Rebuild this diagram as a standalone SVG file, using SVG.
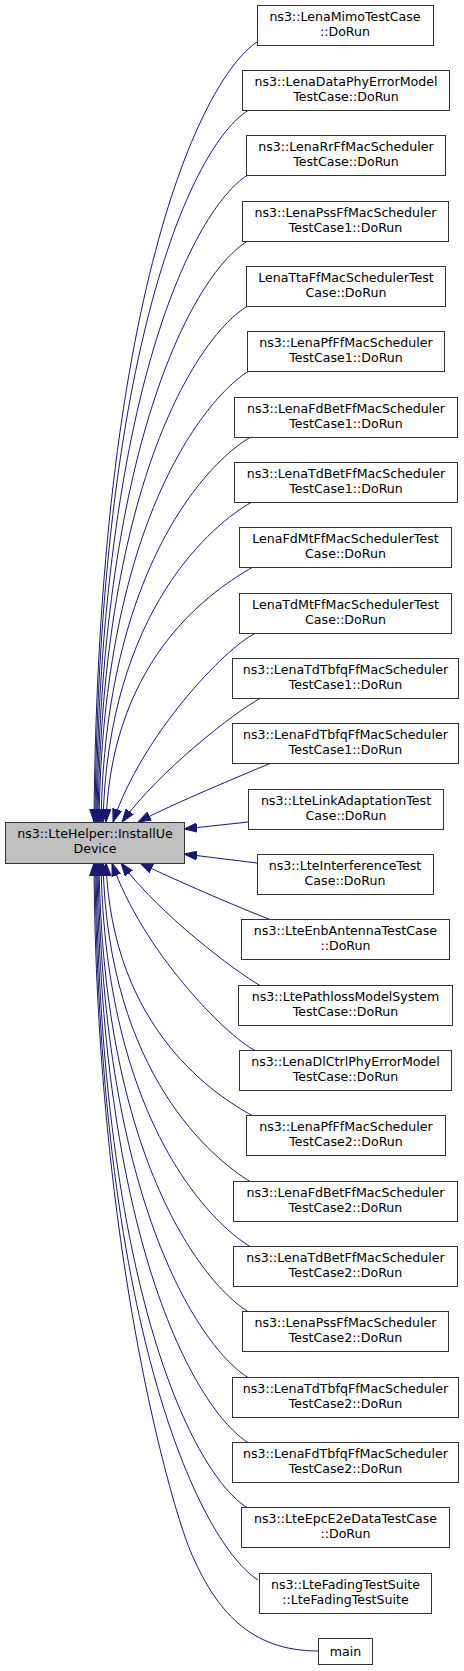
<svg xmlns="http://www.w3.org/2000/svg" width="464" height="1671" viewBox="0 0 464 1671">
<style>
.n rect{fill:#ffffff;stroke:#333333;stroke-width:1}
.c rect{fill:#bfbfbf;stroke:#333333;stroke-width:1}
text{font-family:'DejaVu Sans','Liberation Sans',sans-serif;font-size:12.6px;text-anchor:middle;fill:#000000}
.e path{fill:none;stroke:#191970;stroke-width:1;marker-end:url(#ah)}
</style>
<defs>
<marker id="ah" markerUnits="userSpaceOnUse" markerWidth="13" markerHeight="10" viewBox="0 0 13 10" refX="13" refY="5" orient="auto">
<path d="M0,0.5 L13,5 L0,9.5 z" fill="#191970" stroke="#191970" stroke-width="1"/>
</marker>
</defs>
<rect x="0" y="0" width="464" height="1671" fill="#ffffff"/>
<g id="edges" class="e">
<path d="M257,42 C200,80 98,300 94,822"/>
<path d="M248,110.5 C193,145 99,345 95,822"/>
<path d="M247,175.5 C195,209 100,389 96,822"/>
<path d="M247,241.5 C198,271 101,433 97,822"/>
<path d="M247,306.5 C201,334 102,476 98,822"/>
<path d="M248,371.5 C206,398 103,521 99,822"/>
<path d="M250,437.5 C211,460 105,564 101,822"/>
<path d="M251,502.5 C215,523 108,608 103,822"/>
<path d="M252,567.5 C219,587 112,652 106,822"/>
<path d="M255,633.5 C225,648 142,735 113,822"/>
<path d="M260,698.5 C235,712 160,770 122,822"/>
<path d="M270,763.5 C240,776 175,803 138,822"/>
<path d="M248,822 L184,829"/>
<path d="M257,863 L184,854"/>
<path d="M270,919.5 C240,908 175,880 140,863"/>
<path d="M260,985.5 C235,971 160,915 121,863"/>
<path d="M255,1050.5 C225,1035 142,950 112,863"/>
<path d="M252,1115.5 C219,1097 112,1032 106,863"/>
<path d="M250,1181.5 C215,1160 108,1076 103,863"/>
<path d="M250,1246.5 C211,1223 105,1120 101,863"/>
<path d="M248,1311.5 C206,1286 103,1163 99,863"/>
<path d="M248,1377.5 C202,1349 102,1207 98,863"/>
<path d="M248,1442.5 C199,1412 101,1251 97,863"/>
<path d="M247,1507.5 C195,1475 100,1295 96,863"/>
<path d="M258,1580 C203,1545 99,1340 95,863"/>
<path d="M318,1651 C250,1651 215,1610 190,1550 C172,1507 96,1250 94,863"/>
</g>
<g id="center" class="c"><rect x="5.5" y="822.5" width="179" height="41"/><text x="95" y="838">ns3::LteHelper::InstallUe</text><text x="95" y="853">Device</text></g>
<g id="n1" class="n"><rect x="257.5" y="5.5" width="176" height="40"/><text x="345" y="21">ns3::LenaMimoTestCase</text><text x="345" y="36">::DoRun</text></g>
<g id="n2" class="n"><rect x="242.5" y="70.5" width="207" height="40"/><text x="346" y="86">ns3::LenaDataPhyErrorModel</text><text x="346" y="101">TestCase::DoRun</text></g>
<g id="n3" class="n"><rect x="246.5" y="135.5" width="199" height="40"/><text x="346" y="151">ns3::LenaRrFfMacScheduler</text><text x="346" y="166">TestCase::DoRun</text></g>
<g id="n4" class="n"><rect x="242.5" y="201.5" width="206" height="40"/><text x="345.5" y="217">ns3::LenaPssFfMacScheduler</text><text x="345.5" y="232">TestCase1::DoRun</text></g>
<g id="n5" class="n"><rect x="246.5" y="266.5" width="199" height="40"/><text x="346" y="282">LenaTtaFfMacSchedulerTest</text><text x="346" y="297">Case::DoRun</text></g>
<g id="n6" class="n"><rect x="247.5" y="331.5" width="197" height="40"/><text x="346" y="347">ns3::LenaPfFfMacScheduler</text><text x="346" y="362">TestCase1::DoRun</text></g>
<g id="n7" class="n"><rect x="234.5" y="397.5" width="223" height="40"/><text x="346" y="413">ns3::LenaFdBetFfMacScheduler</text><text x="346" y="428">TestCase1::DoRun</text></g>
<g id="n8" class="n"><rect x="234.5" y="462.5" width="223" height="40"/><text x="346" y="478">ns3::LenaTdBetFfMacScheduler</text><text x="346" y="493">TestCase1::DoRun</text></g>
<g id="n9" class="n"><rect x="239.5" y="527.5" width="212" height="40"/><text x="345.5" y="543">LenaFdMtFfMacSchedulerTest</text><text x="345.5" y="558">Case::DoRun</text></g>
<g id="n10" class="n"><rect x="239.5" y="593.5" width="212" height="40"/><text x="345.5" y="609">LenaTdMtFfMacSchedulerTest</text><text x="345.5" y="624">Case::DoRun</text></g>
<g id="n11" class="n"><rect x="232.5" y="658.5" width="226" height="40"/><text x="345.5" y="674">ns3::LenaTdTbfqFfMacScheduler</text><text x="345.5" y="689">TestCase1::DoRun</text></g>
<g id="n12" class="n"><rect x="232.5" y="723.5" width="226" height="40"/><text x="345.5" y="739">ns3::LenaFdTbfqFfMacScheduler</text><text x="345.5" y="754">TestCase1::DoRun</text></g>
<g id="n13" class="n"><rect x="248.5" y="789.5" width="195" height="40"/><text x="346" y="805">ns3::LteLinkAdaptationTest</text><text x="346" y="820">Case::DoRun</text></g>
<g id="n14" class="n"><rect x="257.5" y="854.5" width="176" height="40"/><text x="345" y="870">ns3::LteInterferenceTest</text><text x="345" y="885">Case::DoRun</text></g>
<g id="n15" class="n"><rect x="241.5" y="919.5" width="208" height="40"/><text x="345.5" y="935">ns3::LteEnbAntennaTestCase</text><text x="345.5" y="950">::DoRun</text></g>
<g id="n16" class="n"><rect x="238.5" y="985.5" width="214" height="40"/><text x="345.5" y="1001">ns3::LtePathlossModelSystem</text><text x="345.5" y="1016">TestCase::DoRun</text></g>
<g id="n17" class="n"><rect x="239.5" y="1050.5" width="212" height="40"/><text x="345.5" y="1066">ns3::LenaDlCtrlPhyErrorModel</text><text x="345.5" y="1081">TestCase::DoRun</text></g>
<g id="n18" class="n"><rect x="246.5" y="1115.5" width="199" height="40"/><text x="346" y="1131">ns3::LenaPfFfMacScheduler</text><text x="346" y="1146">TestCase2::DoRun</text></g>
<g id="n19" class="n"><rect x="233.5" y="1181.5" width="224" height="40"/><text x="345.5" y="1197">ns3::LenaFdBetFfMacScheduler</text><text x="345.5" y="1212">TestCase2::DoRun</text></g>
<g id="n20" class="n"><rect x="233.5" y="1246.5" width="224" height="40"/><text x="345.5" y="1262">ns3::LenaTdBetFfMacScheduler</text><text x="345.5" y="1277">TestCase2::DoRun</text></g>
<g id="n21" class="n"><rect x="242.5" y="1311.5" width="206" height="40"/><text x="345.5" y="1327">ns3::LenaPssFfMacScheduler</text><text x="345.5" y="1342">TestCase2::DoRun</text></g>
<g id="n22" class="n"><rect x="232.5" y="1377.5" width="226" height="40"/><text x="345.5" y="1393">ns3::LenaTdTbfqFfMacScheduler</text><text x="345.5" y="1408">TestCase2::DoRun</text></g>
<g id="n23" class="n"><rect x="232.5" y="1442.5" width="226" height="40"/><text x="345.5" y="1458">ns3::LenaFdTbfqFfMacScheduler</text><text x="345.5" y="1473">TestCase2::DoRun</text></g>
<g id="n24" class="n"><rect x="241.5" y="1507.5" width="208" height="40"/><text x="345.5" y="1523">ns3::LteEpcE2eDataTestCase</text><text x="345.5" y="1538">::DoRun</text></g>
<g id="n25" class="n"><rect x="259.5" y="1573.5" width="172" height="40"/><text x="345.5" y="1589">ns3::LteFadingTestSuite</text><text x="345.5" y="1604">::LteFadingTestSuite</text></g>
<g id="n26" class="n"><rect x="318.5" y="1638.5" width="54" height="26"/><text x="345.5" y="1656">main</text></g>
</svg>
